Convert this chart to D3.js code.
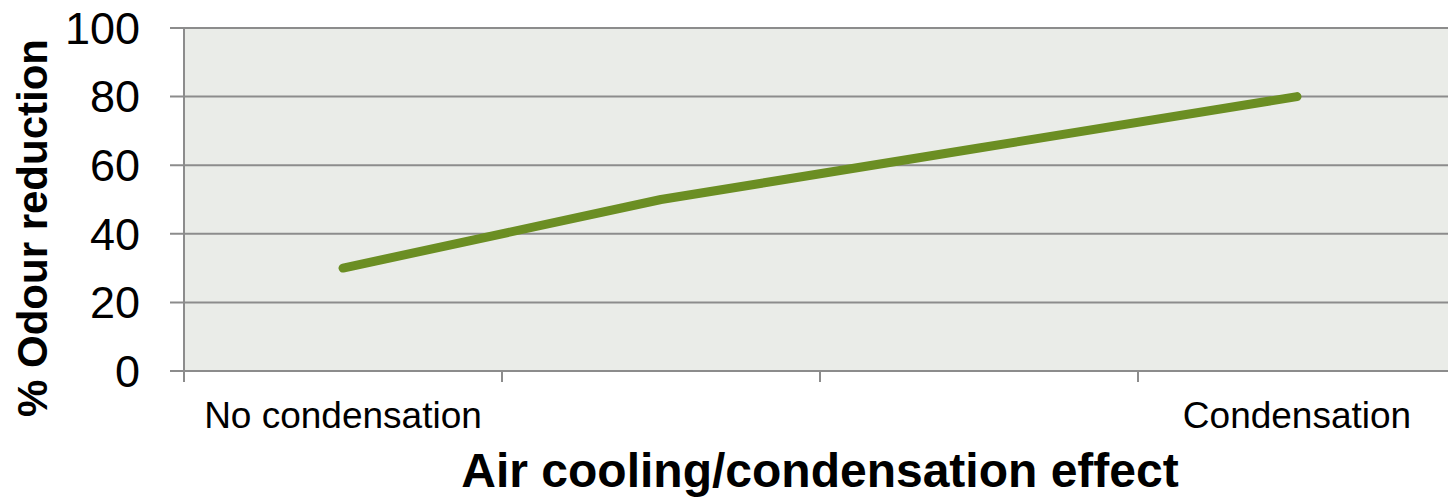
<!DOCTYPE html>
<html>
<head>
<meta charset="utf-8">
<script src="https://cdn.jsdelivr.net/npm/d3@7"></script>
<style>
  html, body { margin: 0; padding: 0; background: #fff; }
  svg { display: block; font-family: "Liberation Sans", Arial, Helvetica, sans-serif; }
</style>
</head>
<body>
<svg id="chart" width="1448" height="497"></svg>
<script>
const categories = ["No condensation", "", " ", "Condensation"];
const values = [30, 50, 65, 80];
const yTicks = [0, 20, 40, 60, 80, 100];
const yTitle = "% Odour reduction";
const xTitle = "Air cooling/condensation effect";

const svg = d3.select("#chart");
const pLeft = 184, pRight = 1456, pTop = 28, pBottom = 371;

const x = d3.scaleBand().domain(categories).range([pLeft, pRight]).padding(0);
const y = d3.scaleLinear().domain([0, 100]).range([pBottom, pTop]);

// plot background
svg.append("rect")
  .attr("x", pLeft).attr("y", pTop)
  .attr("width", pRight - pLeft).attr("height", pBottom - pTop)
  .attr("fill", "#EAECE8");

// gridlines
svg.append("g").selectAll("line").data(yTicks).join("line")
  .attr("x1", pLeft - 14).attr("x2", pRight)
  .attr("y1", d => y(d)).attr("y2", d => y(d))
  .attr("stroke", "#8c8c8c").attr("stroke-width", 2);

// y axis line
svg.append("line")
  .attr("x1", pLeft).attr("x2", pLeft)
  .attr("y1", pTop).attr("y2", pBottom + 11)
  .attr("stroke", "#8c8c8c").attr("stroke-width", 2);

// x ticks at band boundaries
const bounds = categories.map(c => x(c));
svg.append("g").selectAll("line").data(bounds).join("line")
  .attr("x1", d => d).attr("x2", d => d)
  .attr("y1", pBottom).attr("y2", pBottom + 11)
  .attr("stroke", "#8c8c8c").attr("stroke-width", 2);

// y tick labels
svg.append("g").selectAll("text").data(yTicks).join("text")
  .attr("x", 140).attr("y", d => y(d))
  .attr("dy", "0.35em")
  .attr("text-anchor", "end")
  .attr("font-size", 45)
  .attr("fill", "#000")
  .text(d => d);

// x category labels
svg.append("g").selectAll("text").data(categories).join("text")
  .attr("x", d => x(d) + x.bandwidth() / 2)
  .attr("y", 428)
  .attr("text-anchor", "middle")
  .attr("font-size", 37)
  .attr("fill", "#000")
  .text(d => d.trim());

// line
const line = d3.line()
  .x((d, i) => x(categories[i]) + x.bandwidth() / 2)
  .y(d => y(d));
svg.append("path")
  .datum(values)
  .attr("d", line)
  .attr("fill", "none")
  .attr("stroke", "#6B8E23")
  .attr("stroke-width", 9)
  .attr("stroke-linecap", "round")
  .attr("stroke-linejoin", "round");

// axis titles
svg.append("text")
  .attr("x", 820).attr("y", 487)
  .attr("text-anchor", "middle")
  .attr("font-size", 48)
  .attr("font-weight", "bold")
  .attr("fill", "#000")
  .text(xTitle);

svg.append("text")
  .attr("transform", "translate(47,228) rotate(-90)")
  .attr("text-anchor", "middle")
  .attr("font-size", 42)
  .attr("font-weight", "bold")
  .attr("fill", "#000")
  .text(yTitle);
</script>
</body>
</html>
